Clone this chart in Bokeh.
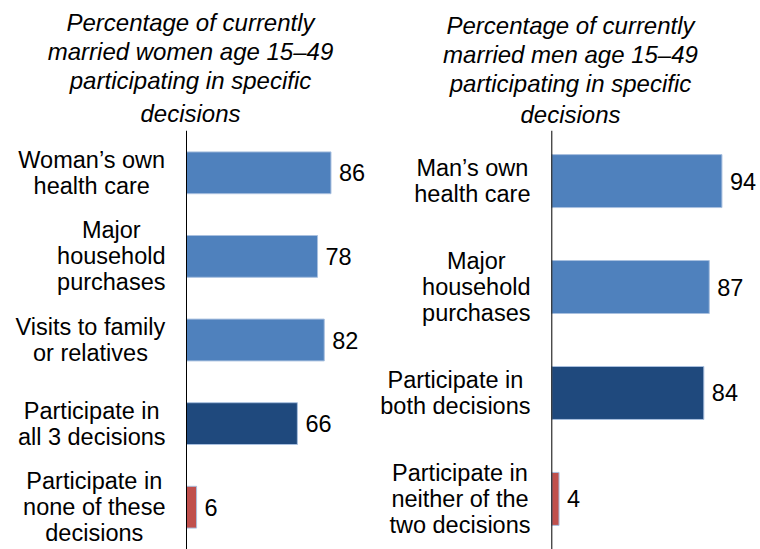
from bokeh.plotting import figure
from bokeh.models import FactorRange, Range1d, Span, ColumnDataSource, Title
from bokeh.layouts import row
from bokeh.core.properties import value
from bokeh.embed import file_html
from bokeh.resources import INLINE

# ---------------- data ----------------
women_title = ["Percentage of currently", "married women age 15–49",
               "participating in specific", "decisions"]
women_cats = [
    "Woman’s own\nhealth care",
    "Major\nhousehold\npurchases",
    "Visits to family\nor relatives",
    "Participate in\nall 3 decisions",
    "Participate in\nnone of these\ndecisions",
]
women_vals = [86, 78, 82, 66, 6]

men_title = ["Percentage of currently", "married men age 15–49",
             "participating in specific", "decisions"]
men_cats = [
    "Man’s own\nhealth care",
    "Major\nhousehold\npurchases",
    "Participate in\nboth decisions",
    "Participate in\nneither of the\ntwo decisions",
]
men_vals = [94, 87, 84, 4]

LIGHT, DARK, RED = "#4F81BD", "#1F497D", "#C0504D"
women_colors = [LIGHT, LIGHT, LIGHT, DARK, RED]
men_colors = [LIGHT, LIGHT, DARK, RED]

# ---------------- style / layout ----------------
FONT = "Liberation Sans"
LABEL_PX = 23.5
TITLE_PX = 24
H = 549
W = 380

ARIAL = {' ': 278, 'a': 556, 'b': 556, 'c': 500, 'd': 556, 'e': 556, 'f': 278, 'g': 556,
         'h': 556, 'i': 222, 'j': 222, 'l': 222, 'm': 833, 'n': 556, 'o': 556, 'p': 556,
         'r': 333, 's': 500, 't': 278, 'u': 556, 'v': 500, 'w': 722, 'y': 500, 'M': 833,
         'P': 667, 'V': 667, 'W': 944, '’': 222, '3': 556}


def text_width(txt, px):
    return max(sum(ARIAL.get(ch, 556) for ch in line) for line in txt.split("\n")) * px / 1000.0


def panel(title_lines, cats, vals, colors, axis_px, scale, band_px, top_px, gap, title_offset,
          title_standoff):
    n = len(cats)
    pad = (H - top_px) / band_px / n - 1
    yr = FactorRange(factors=list(reversed(cats)), range_padding=pad,
                     range_padding_units="percent")
    xr = Range1d(-axis_px / scale, (W - axis_px) / scale)
    p = figure(width=W, height=H, x_range=xr, y_range=yr, output_backend="svg",
               toolbar_location=None, min_border_left=0, min_border_right=0,
               min_border_bottom=0, min_border_top=top_px,
               x_axis_location=None, y_axis_location=None, outline_line_color=None,
               background_fill_color="white", border_fill_color="white")
    p.grid.visible = False

    # title lines: added bottom-up (nearest to the frame first)
    for i, line in enumerate(reversed(title_lines)):
        p.add_layout(Title(text=line, text_font=FONT, text_font_size=f"{TITLE_PX}px",
                           text_font_style="italic", text_color="black", align="center",
                           offset=title_offset,
                           standoff=title_standoff if i == 0 else 0), "above")

    src = ColumnDataSource(dict(
        cat=cats, val=vals, color=colors,
        txt=[str(v) for v in vals],
        lx=[-(gap + text_width(c, LABEL_PX) / 2) / scale for c in cats],
    ))
    p.hbar(y="cat", left=0, right="val", height=0.5, fill_color="color",
           line_color="#A9C0DF", line_width=1, source=src)
    p.add_layout(Span(location=0, dimension="height", line_color="black", line_width=1))
    p.text(x="val", y="cat", text="txt", x_offset=8, text_align="left",
           text_baseline="middle", text_font=value(FONT), text_font_size=f"{LABEL_PX}px",
           text_color="black", source=src)
    p.text(x="lx", y="cat", text="cat", text_align="center", text_baseline="middle",
           text_font=value(FONT), text_font_size=f"{LABEL_PX}px", text_line_height=1.0,
           text_color="black", source=src)
    return p


left = panel(women_title, women_cats, women_vals, women_colors,
             axis_px=186, scale=1.68, band_px=83.6, top_px=130, gap=21, title_offset=-2,
             title_standoff=8)
right = panel(men_title, men_cats, men_vals, men_colors,
              axis_px=171.3, scale=1.81, band_px=106.7, top_px=127, gap=21.3, title_offset=-2,
              title_standoff=5)

layout = row(left, right, spacing=0)
open("out.html", "w").write(file_html(layout, INLINE))
